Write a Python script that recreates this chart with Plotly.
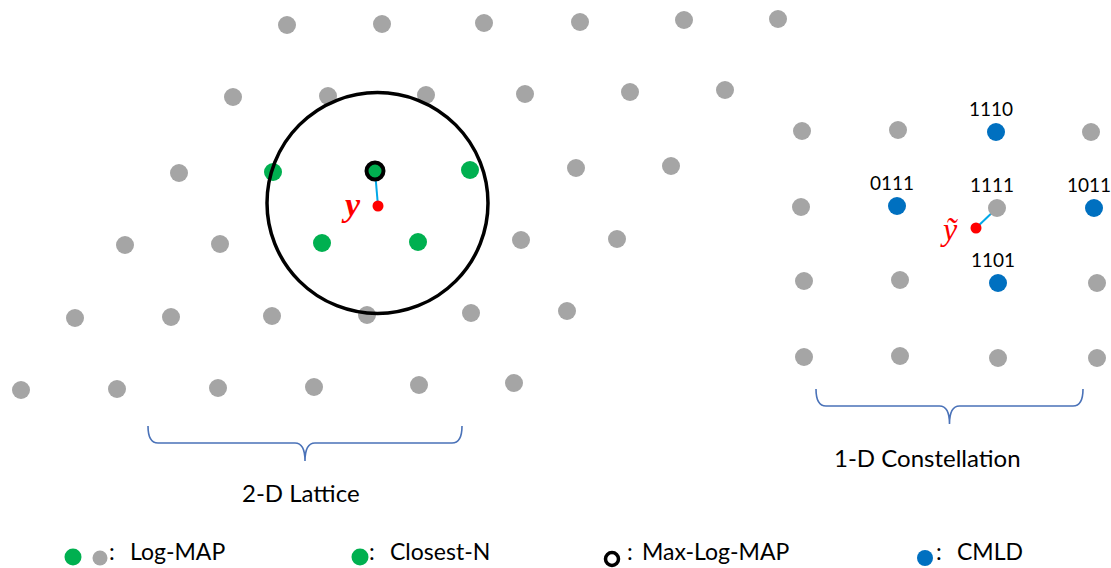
import plotly.graph_objects as go

W, H = 1111, 568

# ---- 2-D lattice points, rows from top to bottom ----
lat_x = [287, 382, 484, 580, 684, 778,
         233, 328, 426, 525, 630, 725,
         179, 273, 375, 470, 576, 671,
         125, 220, 322, 418, 521, 617,
         75, 171, 272, 367, 471, 567,
         21, 117, 218, 314, 419, 514]
lat_y = [25, 24, 23, 22, 20, 19,
         97, 96, 95, 94, 92, 90,
         173, 172, 171, 170, 168, 166,
         245, 244, 243, 242, 240, 239,
         318, 317, 316, 315, 313, 311,
         390, 389, 388, 387, 385, 383]
lat_kind = ["far"] * 36
for i in (13, 15, 20, 21):
    lat_kind[i] = "closest"
lat_kind[14] = "maxlog"

# received point in the lattice and the search sphere around it
y_rx = (378, 206)
sphere_center = (377.5, 203)
sphere_radius = 110.5

# ---- 1-D constellation (4x4), rows from top to bottom ----
con_x = [802, 898, 996, 1091,
         801, 897, 997, 1094,
         804, 900, 998, 1097,
         804, 900, 998, 1097]
con_y = [131, 130, 132, 132,
         207, 206, 208, 208,
         281, 280, 283, 283,
         357, 356, 358, 358]
con_label = ["", "", "1110", "",
             "", "0111", "1111", "1011",
             "", "", "1101", "",
             "", "", "", ""]
con_cmld = {"1110", "0111", "1011", "1101"}
ytilde_rx = (976, 228)
ytilde_near = 6  # index of 1111

# key entries: colon position, label position, label
key_colon_x = [112, 372, 630, 939]
key_text_x = [128, 388, 640, 955]
key_text = ["Log-MAP", "Closest-N", "Max-Log-MAP", "CMLD"]

GREY = "#a5a5a5"
GREEN = "#00b050"
BLUE = "#0070c0"
RED = "#ff0000"
CYAN = "#00a8e8"
BRACE = "#4a72b8"
FONT = "Lato"

fig = go.Figure()

# sphere, drawn over the lattice points
cx, cy = sphere_center
fig.add_shape(type="circle", xref="x", yref="y",
              x0=cx - sphere_radius, x1=cx + sphere_radius,
              y0=cy - sphere_radius, y1=cy + sphere_radius,
              line=dict(color="black", width=3.5), layer="above")

# lattice points
for kind, col in (("far", GREY), ("closest", GREEN)):
    xs = [x for x, k in zip(lat_x, lat_kind) if k == kind]
    ys = [y for y, k in zip(lat_y, lat_kind) if k == kind]
    fig.add_trace(go.Scatter(x=xs, y=ys, mode="markers",
                             marker=dict(size=18, color=col, line=dict(width=0))))

ml = lat_kind.index("maxlog")
# link from received point to max-log-MAP point
fig.add_trace(go.Scatter(x=[lat_x[ml], y_rx[0]], y=[lat_y[ml], y_rx[1]], mode="lines",
                         line=dict(color=CYAN, width=2)))
fig.add_trace(go.Scatter(x=[lat_x[ml]], y=[lat_y[ml]], mode="markers",
                         marker=dict(size=17, color=GREEN, line=dict(color="black", width=4))))
fig.add_trace(go.Scatter(x=[y_rx[0]], y=[y_rx[1]], mode="markers",
                         marker=dict(size=11, color=RED)))

# constellation points
fig.add_trace(go.Scatter(x=[con_x[ytilde_near], ytilde_rx[0]],
                         y=[con_y[ytilde_near], ytilde_rx[1]], mode="lines",
                         line=dict(color=CYAN, width=2)))
con_colors = [BLUE if l in con_cmld else GREY for l in con_label]
fig.add_trace(go.Scatter(x=con_x, y=con_y, mode="markers",
                         marker=dict(size=18, color=con_colors, line=dict(width=0))))
fig.add_trace(go.Scatter(x=[ytilde_rx[0]], y=[ytilde_rx[1]], mode="markers",
                         marker=dict(size=11, color=RED)))

for x, y, lab in zip(con_x, con_y, con_label):
    if lab:
        fig.add_annotation(x=x - 5, y=y - 24, text=lab, showarrow=False,
                           font=dict(family=FONT, size=19, color="black"),
                           xanchor="center", yanchor="middle")

# received-signal labels
fig.add_annotation(x=351, y=204, text="<b><i>y</i></b>", showarrow=False,
                   font=dict(family="Liberation Serif", size=34, color=RED),
                   xanchor="center", yanchor="middle")
fig.add_annotation(x=949, y=229, text="<i>ỹ</i>", showarrow=False,
                   font=dict(family="Liberation Serif", size=32, color=RED),
                   xanchor="center", yanchor="middle")

# braces
def brace(x0, x1, ytop, ymid, ybot):
    xm = (x0 + x1) / 2
    r = 10
    return (f"M {x0},{ytop} Q {x0},{ymid} {x0 + r},{ymid} L {xm - r},{ymid} "
            f"Q {xm},{ymid} {xm},{ybot} Q {xm},{ymid} {xm + r},{ymid} "
            f"L {x1 - r},{ymid} Q {x1},{ymid} {x1},{ytop}")

fig.add_shape(type="path", xref="x", yref="y", path=brace(148, 462, 426, 443, 461),
              line=dict(color=BRACE, width=1.6))
fig.add_shape(type="path", xref="x", yref="y", path=brace(816, 1083, 389, 406, 424),
              line=dict(color=BRACE, width=1.6))

fig.add_annotation(x=301, y=492, text="2-D Lattice", showarrow=False,
                   font=dict(family=FONT, size=24, color="black"))
fig.add_annotation(x=927, y=457, text="1-D Constellation", showarrow=False,
                   font=dict(family=FONT, size=24, color="black"))

# key
fig.add_trace(go.Scatter(x=[73, 360], y=[557, 557], mode="markers",
                         marker=dict(size=17, color=GREEN)))
fig.add_trace(go.Scatter(x=[100], y=[558], mode="markers",
                         marker=dict(size=15, color=GREY)))
fig.add_trace(go.Scatter(x=[612], y=[559], mode="markers",
                         marker=dict(size=13, color="white", line=dict(color="black", width=3.5))))
fig.add_trace(go.Scatter(x=[925], y=[558], mode="markers",
                         marker=dict(size=16, color=BLUE)))
for xc, xt, t in zip(key_colon_x, key_text_x, key_text):
    fig.add_annotation(x=xc, y=551, text=":", showarrow=False, xanchor="center",
                       font=dict(family=FONT, size=23, color="black"))
    fig.add_annotation(x=xt, y=551, text=t, showarrow=False, xanchor="left",
                       font=dict(family=FONT, size=23, color="black"))

fig.update_layout(
    width=W, height=H, margin=dict(l=0, r=0, t=0, b=0),
    paper_bgcolor="white", plot_bgcolor="white", showlegend=False,
    xaxis=dict(range=[0, W], visible=False, fixedrange=True),
    yaxis=dict(range=[H, 0], visible=False, fixedrange=True),
)
fig.write_html("out.html")
